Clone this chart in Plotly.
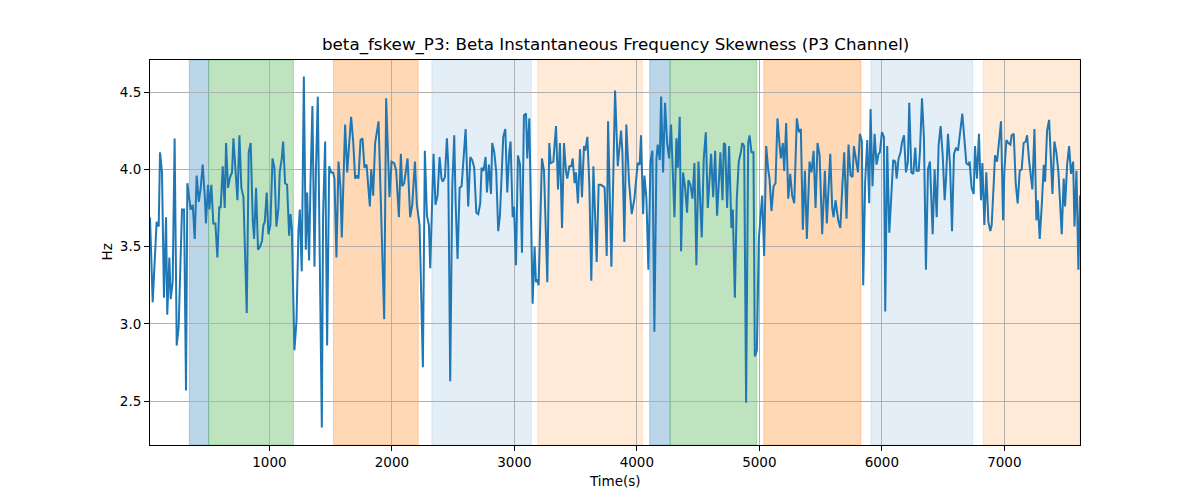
import plotly.graph_objects as go

# ---- data -----------------------------------------------------------------
time_s = [
    25, 47, 79, 96, 107, 123, 139, 156, 166, 183, 194, 210, 226, 243, 259, 286, 303, 319, 330, 346,
    357, 374, 390, 406, 423, 439, 455, 472, 482, 499, 510, 526, 542, 559, 575, 591, 602, 619, 635, 646,
    662, 679, 695, 706, 722, 739, 755, 771, 788, 815, 831, 847, 864, 875, 891, 907, 924, 940, 951, 962,
    978, 992, 1008, 1025, 1041, 1057, 1074, 1084, 1101, 1112, 1128, 1144, 1161, 1172, 1183, 1204, 1221, 1237, 1248, 1264,
    1281, 1297, 1308, 1324, 1335, 1351, 1368, 1379, 1395, 1411, 1428, 1438, 1455, 1471, 1488, 1504, 1520, 1531, 1547, 1564,
    1580, 1591, 1602, 1618, 1635, 1651, 1667, 1684, 1700, 1716, 1727, 1744, 1760, 1776, 1793, 1809, 1820, 1831, 1847, 1863,
    1880, 1891, 1937, 1953, 1980, 1997, 2019, 2035, 2057, 2073, 2084, 2100, 2128, 2149, 2166, 2188, 2204, 2226, 2253, 2269,
    2286, 2302, 2313, 2340, 2356, 2373, 2389, 2405, 2416, 2433, 2449, 2460, 2476, 2493, 2509, 2520, 2536, 2553, 2569, 2602,
    2623, 2640, 2656, 2672, 2689, 2705, 2721, 2732, 2748, 2765, 2776, 2792, 2809, 2819, 2836, 2852, 2868, 2882, 2909, 2926,
    2942, 2958, 2969, 2986, 2997, 3013, 3029, 3046, 3062, 3078, 3095, 3105, 3122, 3138, 3149, 3165, 3176, 3187, 3198, 3225,
    3242, 3269, 3285, 3296, 3318, 3340, 3356, 3372, 3389, 3405, 3421, 3432, 3449, 3465, 3476, 3492, 3503, 3519, 3536, 3552,
    3568, 3579, 3596, 3612, 3628, 3645, 3672, 3688, 3705, 3726, 3737, 3754, 3765, 3792, 3822, 3844, 3871, 3882, 3898, 3914,
    3936, 3958, 3980, 4007, 4023, 4034, 4051, 4062, 4078, 4094, 4111, 4127, 4143, 4160, 4170, 4187, 4198, 4214, 4230, 4247,
    4263, 4279, 4290, 4307, 4323, 4334, 4350, 4361, 4377, 4394, 4410, 4421, 4437, 4454, 4470, 4486, 4503, 4530, 4546, 4563,
    4579, 4606, 4623, 4639, 4655, 4672, 4682, 4699, 4710, 4721, 4737, 4753, 4772, 4783, 4800, 4816, 4832, 4849, 4860, 4876,
    4892, 4909, 4920, 4936, 4952, 4963, 4980, 4996, 5012, 5023, 5039, 5056, 5072, 5083, 5099, 5116, 5132, 5148, 5165, 5176,
    5192, 5203, 5219, 5236, 5252, 5268, 5285, 5306, 5323, 5339, 5355, 5372, 5388, 5410, 5426, 5443, 5459, 5475, 5492, 5513,
    5535, 5551, 5579, 5595, 5606, 5622, 5644, 5661, 5677, 5693, 5712, 5728, 5745, 5761, 5772, 5788, 5805, 5821, 5837, 5848,
    5864, 5881, 5897, 5908, 5924, 5941, 5957, 5973, 5984, 6001, 6017, 6028, 6044, 6061, 6077, 6093, 6110, 6121, 6137, 6153,
    6164, 6181, 6197, 6213, 6224, 6241, 6257, 6273, 6284, 6301, 6311, 6328, 6344, 6360, 6377, 6393, 6415, 6431, 6448, 6464,
    6480, 6497, 6513, 6524, 6540, 6557, 6573, 6589, 6606, 6622, 6657, 6674, 6690, 6706, 6717, 6733, 6750, 6761, 6777, 6793,
    6810, 6821, 6837, 6853, 6870, 6886, 6897, 6913, 6924, 6941, 6957, 6973, 6990, 7000, 7017, 7033, 7050, 7060, 7077, 7093,
    7109, 7126, 7142, 7158, 7175, 7186, 7202, 7218, 7229, 7246, 7262, 7273, 7289, 7306, 7322, 7333, 7349, 7366, 7376, 7393,
    7409, 7425, 7442, 7458, 7469, 7485, 7496, 7513, 7529, 7545, 7562, 7573, 7589, 7605, 7618,
]

fskew_hz = [
    3.69, 3.14, 3.66, 3.63, 4.11, 3.98, 3.17, 3.69, 3.06, 3.43, 3.16, 3.27, 4.20, 2.86, 2.98, 3.74, 3.74, 2.57, 3.91, 3.79,
    3.74, 3.77, 3.55, 3.96, 3.79, 3.88, 4.03, 3.83, 3.65, 3.90, 3.74, 3.90, 3.65, 3.65, 3.43, 3.76, 3.75, 4.02, 3.75, 4.17,
    3.88, 3.95, 3.98, 4.20, 4.03, 3.80, 4.22, 3.88, 3.82, 3.07, 4.11, 4.17, 3.67, 3.55, 3.88, 3.48, 3.50, 3.54, 3.64, 3.66,
    3.85, 3.58, 3.64, 4.07, 4.01, 3.63, 3.75, 3.98, 4.07, 4.18, 3.91, 3.90, 3.57, 3.71, 3.62, 2.83, 3.02, 3.60, 3.74, 3.34,
    4.60, 3.48, 3.85, 3.41, 3.90, 4.41, 3.37, 3.96, 4.47, 3.47, 2.33, 3.70, 4.18, 2.86, 4.02, 3.98, 3.98, 3.94, 3.43, 4.05,
    3.88, 3.56, 3.81, 4.29, 3.98, 4.17, 4.34, 4.18, 3.94, 3.96, 3.94, 4.19, 4.20, 4.01, 4.03, 3.87, 3.76, 4.00, 3.83, 4.17,
    4.26, 4.31, 3.03, 4.46, 3.82, 4.05, 4.04, 3.99, 3.69, 4.10, 3.89, 3.91, 4.07, 3.69, 3.77, 4.05, 3.77, 3.64, 2.72, 4.12,
    3.70, 3.64, 3.36, 4.10, 3.77, 3.83, 4.08, 3.94, 3.92, 3.95, 4.20, 4.03, 2.63, 3.89, 4.22, 3.79, 3.42, 3.88, 3.89, 4.26,
    3.76, 4.08, 4.06, 4.01, 3.72, 3.71, 3.78, 4.01, 3.99, 4.08, 3.85, 4.03, 3.84, 4.17, 4.11, 3.98, 3.60, 3.70, 4.21, 4.26,
    3.85, 4.11, 4.18, 3.69, 3.76, 3.38, 4.09, 4.03, 3.46, 4.35, 4.36, 4.07, 4.33, 3.58, 3.13, 3.50, 3.27, 3.29, 3.25, 4.07,
    3.99, 3.27, 4.17, 4.04, 4.05, 4.28, 3.87, 4.17, 3.62, 4.17, 3.99, 3.94, 4.02, 4.02, 4.07, 3.91, 3.98, 3.78, 4.13, 3.82,
    4.15, 4.12, 4.21, 3.90, 3.28, 4.02, 3.40, 3.90, 3.90, 3.89, 3.88, 3.44, 4.31, 3.37, 4.51, 4.02, 4.25, 4.11, 3.53, 4.29,
    3.92, 3.71, 3.81, 4.04, 4.03, 4.22, 3.71, 3.96, 3.81, 3.35, 4.05, 4.12, 2.95, 4.07, 4.16, 4.06, 4.47, 3.98, 4.43, 4.17,
    4.07, 4.29, 4.07, 3.69, 4.20, 4.01, 4.34, 3.47, 3.98, 3.88, 3.72, 3.93, 3.90, 3.81, 4.04, 3.38, 4.05, 3.56, 4.07, 4.24,
    3.75, 4.10, 3.82, 4.12, 3.70, 4.01, 4.11, 3.80, 4.17, 4.16, 3.75, 4.15, 3.62, 3.74, 3.17, 3.81, 4.05, 4.11, 4.17, 4.15,
    2.49, 4.17, 4.22, 4.11, 4.11, 2.79, 2.83, 3.55, 3.70, 3.83, 3.44, 4.15, 4.00, 3.94, 3.73, 3.89, 3.91, 4.33, 4.16, 4.07,
    4.17, 3.99, 4.30, 3.81, 3.97, 3.83, 3.78, 4.33, 4.24, 4.26, 3.61, 3.99, 3.55, 4.05, 3.98, 4.12, 3.75, 4.17, 4.09, 3.58,
    3.99, 3.65, 4.10, 3.75, 3.69, 3.80, 3.67, 3.62, 3.88, 4.11, 3.68, 4.16, 3.96, 3.95, 4.15, 4.05, 3.98, 4.23, 4.18, 3.25,
    3.92, 4.19, 3.78, 4.39, 3.89, 4.23, 4.03, 4.10, 4.11, 4.24, 4.21, 3.08, 4.15, 3.59, 3.79, 4.06, 4.05, 3.94, 4.07, 4.11,
    4.17, 4.22, 3.98, 4.05, 4.43, 3.98, 3.97, 4.14, 3.99, 3.99, 4.11, 4.46, 4.20, 3.35, 4.00, 4.05, 3.58, 4.00, 3.69, 4.16,
    4.28, 4.09, 3.80, 3.94, 4.23, 4.03, 3.60, 4.10, 4.14, 4.12, 4.36, 4.22, 4.04, 4.03, 4.05, 3.88, 3.84, 4.15, 3.94, 4.23,
    3.80, 4.04, 3.64, 3.98, 3.66, 3.60, 3.64, 3.90, 4.09, 4.05, 4.18, 4.31, 3.67, 3.98, 4.19, 4.17, 4.16, 4.22, 4.23, 3.91,
    3.78, 3.99, 4.00, 4.17, 4.18, 4.22, 4.06, 3.92, 3.87, 4.26, 3.67, 3.80, 3.55, 3.77, 4.03, 3.92, 4.25, 4.32, 4.15, 3.84,
    4.18, 4.11, 3.98, 3.70, 3.58, 3.94, 3.76, 4.03, 4.15, 3.97, 4.05, 3.63, 3.99, 3.35, 3.83,
]

# shaded intervals: start, end, colour name, opacity
span_start = [346, 504, 1523, 2326, 3190, 4105, 4271, 5037, 5911, 6829]
span_end = [504, 1196, 2215, 3138, 4045, 4271, 4979, 5829, 6742, 7618]
span_color = ["blue", "green", "orange", "blue", "orange", "blue", "green", "orange", "blue", "orange"]
span_alpha = [0.3, 0.3, 0.3, 0.12, 0.16, 0.3, 0.3, 0.3, 0.12, 0.16]

x_ticks = [1000, 2000, 3000, 4000, 5000, 6000, 7000]
y_ticks = [2.5, 3.0, 3.5, 4.0, 4.5]

# ---- styling --------------------------------------------------------------
RGB = {"blue": (31, 119, 180), "green": (44, 160, 44), "orange": (255, 127, 14)}
FONT = "DejaVu Sans"

fig = go.Figure()

shapes = []
for s, e, c, a in zip(span_start, span_end, span_color, span_alpha):
    r, g, b = RGB[c]
    shapes.append(dict(
        type="rect", xref="x", yref="paper", x0=s, x1=e, y0=0, y1=1,
        fillcolor=f"rgba({r},{g},{b},{a})",
        line=dict(color=f"rgba({r},{g},{b},{a})", width=1),
        layer="below",
    ))

fig.add_trace(go.Scatter(
    x=time_s, y=fskew_hz, mode="lines",
    line=dict(color="#1f77b4", width=2),
    hoverinfo="skip", showlegend=False,
))

axis_common = dict(
    showline=True, linecolor="black", linewidth=1, mirror=True,
    ticks="outside", ticklen=5, tickwidth=1, tickcolor="black",
    showgrid=True, gridcolor="#b0b0b0", gridwidth=1,
    zeroline=False,
    tickfont=dict(family=FONT, size=13.5, color="black"),
)

fig.update_layout(
    width=1200, height=500,
    margin=dict(l=142, r=128, t=52, b=63),
    plot_bgcolor="white", paper_bgcolor="white",
    shapes=shapes,
    xaxis=dict(range=[25, 7618], tickvals=x_ticks, ticktext=[str(v) for v in x_ticks], **axis_common),
    yaxis=dict(range=[2.217, 4.707], tickvals=y_ticks, ticktext=[f"{v:.1f}" for v in y_ticks], **axis_common),
    annotations=[
        dict(text="beta_fskew_P3: Beta Instantaneous Frequency Skewness (P3 Channel)",
             xref="paper", yref="paper", x=0.5, y=1.0, yshift=3, xanchor="center", yanchor="bottom",
             showarrow=False, font=dict(family=FONT, size=16.7, color="black")),
        dict(text="Time(s)", xref="paper", yref="paper", x=0.5, y=-0.0935,
             xanchor="center", yanchor="middle", showarrow=False,
             font=dict(family=FONT, size=13.5, color="black")),
        dict(text="Hz", xref="paper", yref="paper", x=-0.0473, y=0.5, textangle=-90,
             xanchor="center", yanchor="middle", showarrow=False,
             font=dict(family=FONT, size=13.5, color="black")),
    ],
)

fig.write_html("out.html")
